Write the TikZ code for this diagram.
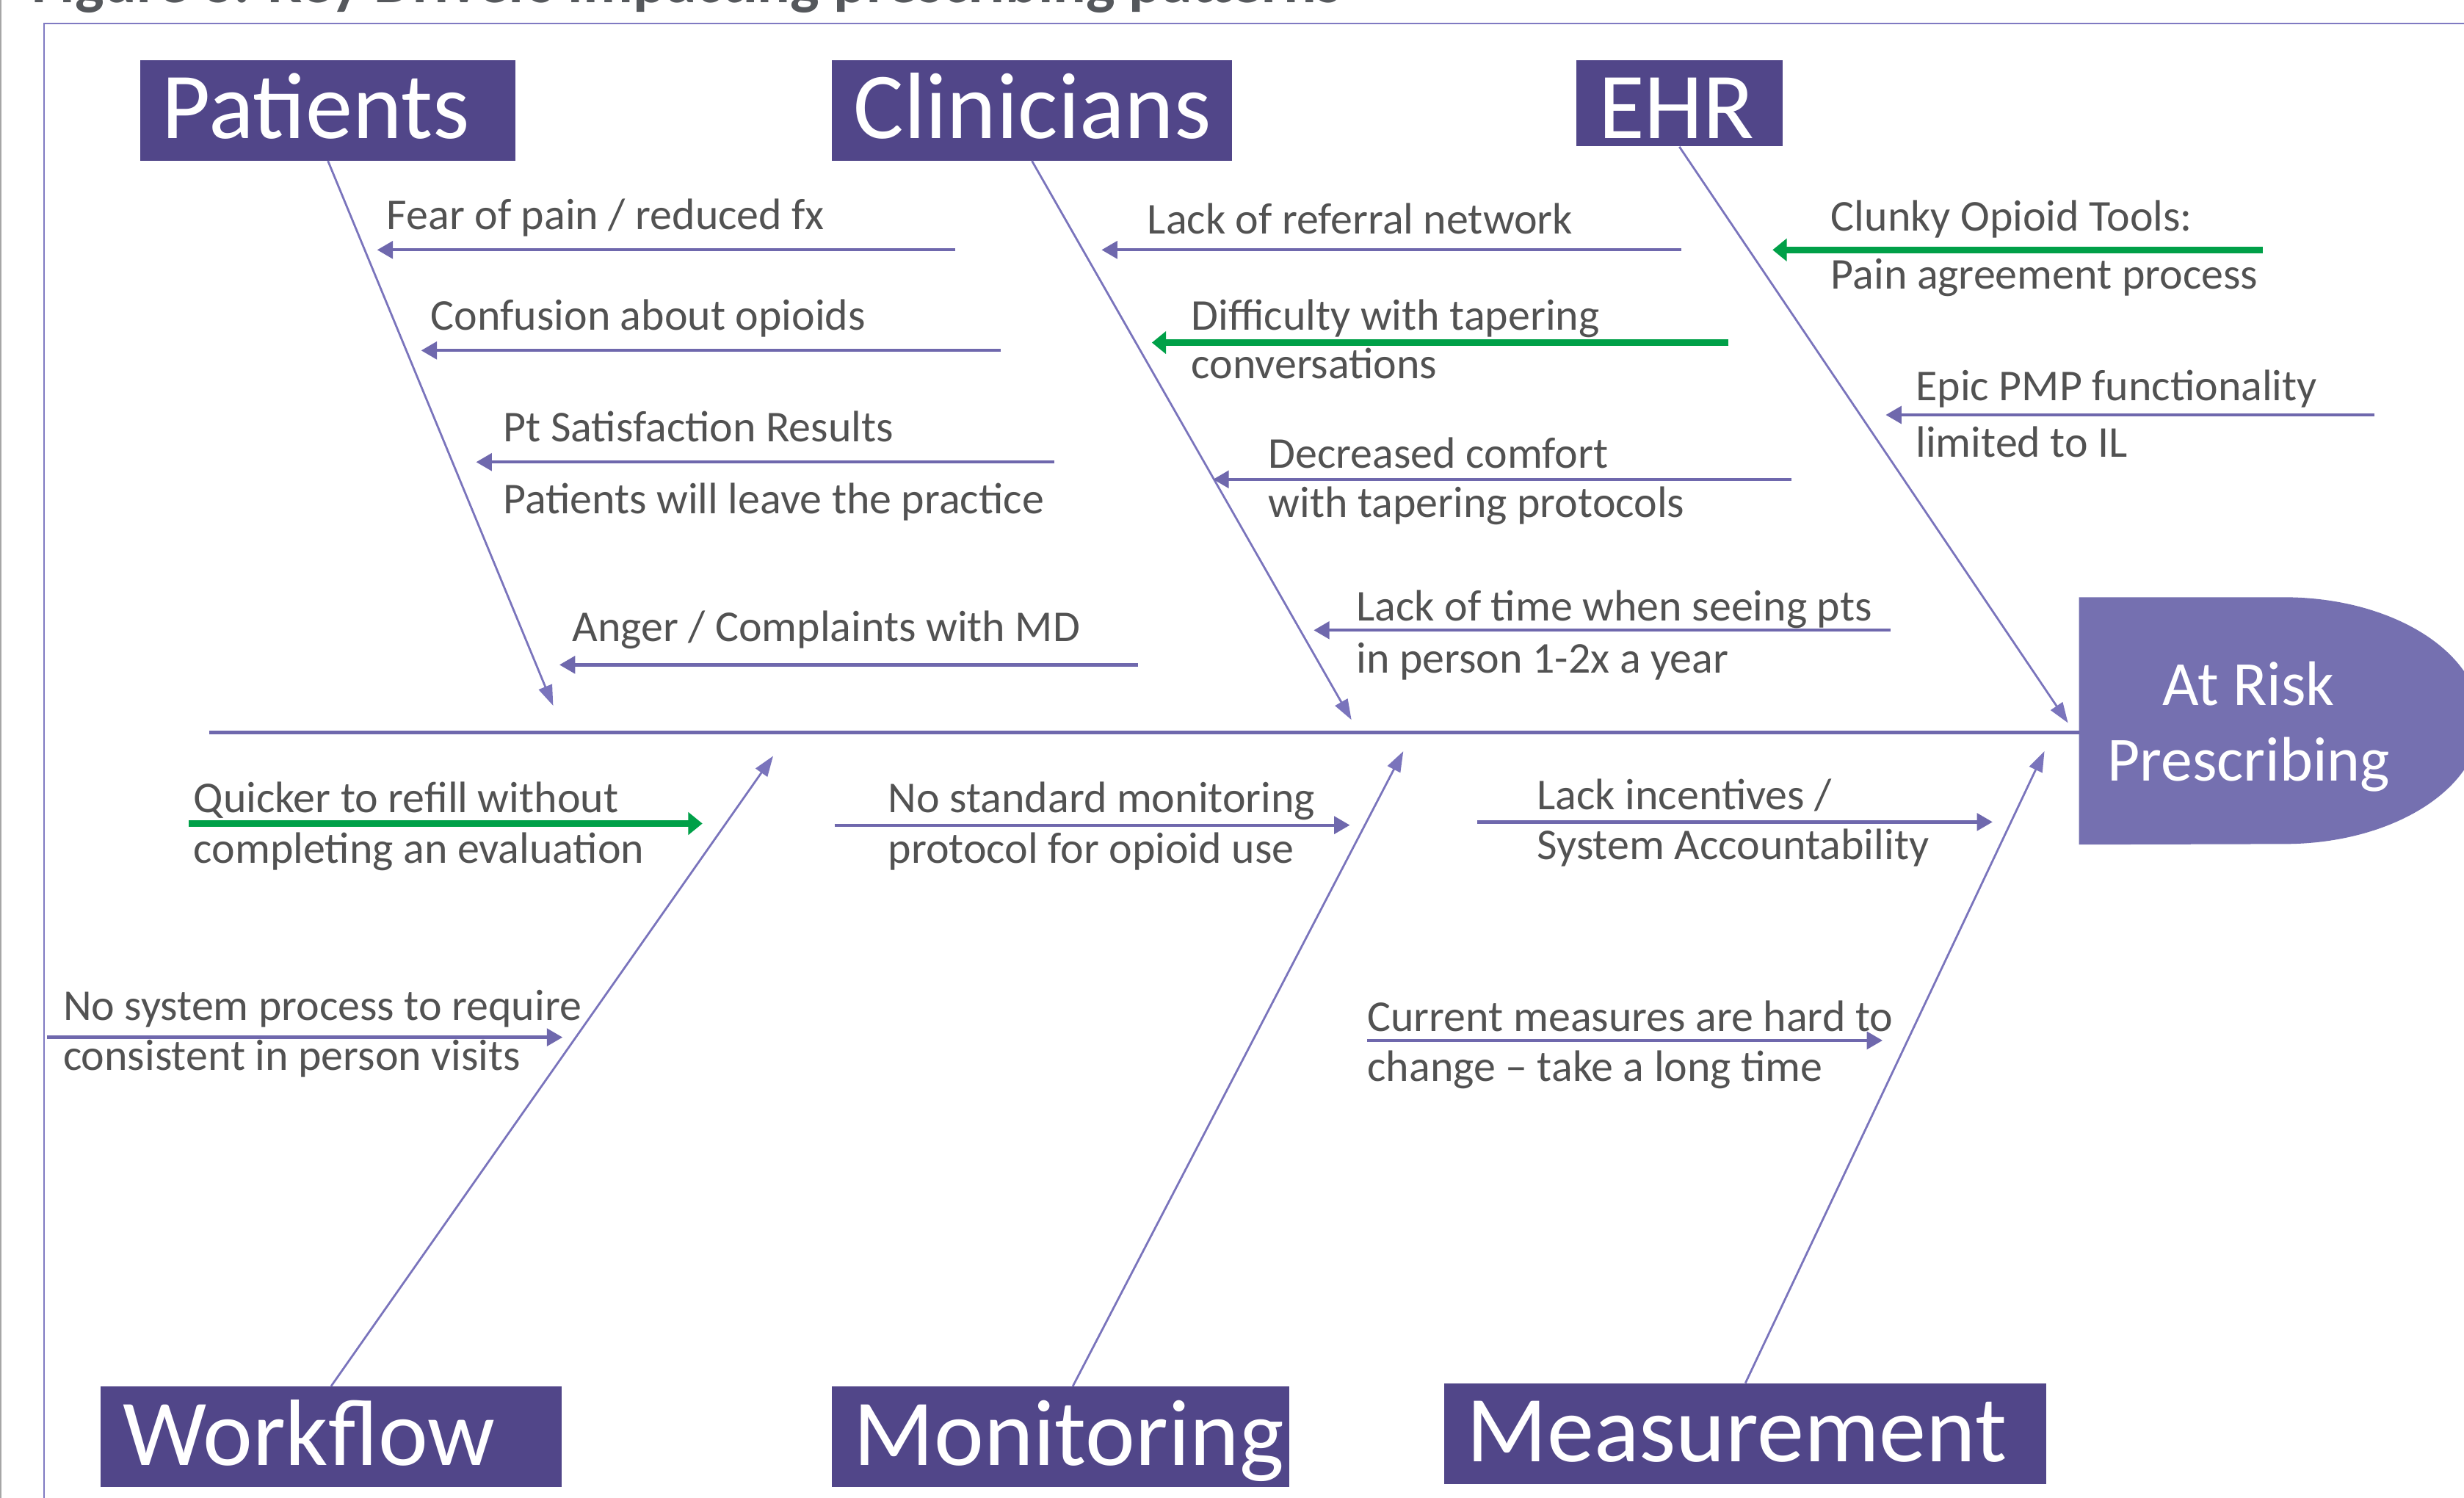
\documentclass[tikz,border=0pt]{standalone}
\usepackage{fontspec}
\setmainfont{Carlito}
\usetikzlibrary{arrows.meta}

\definecolor{boxpurple}{RGB}{81,70,137}
\definecolor{headpurple}{RGB}{117,112,176}
\definecolor{linepurple}{RGB}{111,104,173}
\definecolor{bonepurple}{RGB}{122,116,188}
\definecolor{framepurple}{RGB}{128,122,194}
\definecolor{txtgray}{RGB}{82,82,82}
\definecolor{titlegray}{RGB}{85,88,92}
\definecolor{keygreen}{RGB}{0,160,72}

\begin{document}
\begin{tikzpicture}[x=1pt,y=-1pt,
  catbox/.style={fill=boxpurple, text=white, anchor=north west,
    font=\fontsize{60}{62}\selectfont, inner xsep=14pt, inner ysep=0pt,
    text height=50pt, text depth=14pt, align=left},
  lbl/.style={anchor=base west, inner sep=0pt, text=txtgray,
    font=\fontsize{28}{30}\selectfont},
  headlbl/.style={anchor=base, inner sep=0pt, text=white,
    font=\fontsize{40}{44}\selectfont},
  bone/.style={draw=bonepurple, line width=1.3pt,
    -{Triangle[length=13pt,width=9pt]}},
  cause/.style={draw=linepurple, line width=2pt,
    -{Triangle[length=10pt,width=11pt]}},
  keycause/.style={draw=keygreen, line width=4pt,
    -{Triangle[length=9pt,width=14pt]}},
  spine/.style={draw=linepurple, line width=2pt},
]
\useasboundingbox (0,0) rectangle (1568,953);
\clip (0,0) rectangle (1568,953);

% page edge and figure frame
\draw[black!35, line width=1pt] (0.5,0) -- (0.5,953);
\draw[framepurple, line width=1.3pt] (28,953) -- (28,15) -- (1568,15);

% caption (runs off the top edge)
\node[anchor=base west, inner sep=0pt, text=titlegray,
  font=\bfseries\fontsize{39}{40}\selectfont] (caption) at (20,1.5)
  {Figure 3. Key Drivers impacting prescribing patterns};

% effect head: square back, rounded front, filled as one path
\node[inner sep=0pt, minimum width=130pt, minimum height=157pt,
  anchor=north west] (head) at (1323,380) {};
\fill[headpurple] (head.north west) -- (head.north east)
  arc[start angle=90, end angle=-90, x radius=125pt, y radius=78.5pt]
  -- (head.south west) -- cycle;
\node[headlbl] (risk1) at (1431,448.6) {At Risk};
\node[headlbl] (risk2) at (1431,496.7) {Prescribing};

% category boxes
\node[catbox, text width=211pt] (patients) at (89,38) {Patients};
\node[catbox, text width=227pt] (clinicians) at (529,38) {Clinicians};
\node[catbox, text width=103pt, text depth=5pt] (ehr) at (1003,38) {EHR};
\node[catbox, text width=265pt] (workflow) at (64,882) {Workflow};
\node[catbox, text width=263pt] (monitoring) at (529,882) {Monitoring};
\node[catbox, text width=355pt] (measurement) at (919,880) {Measurement};

% spine
\coordinate (tail) at (133,466);
\draw[spine] (tail) -- (tail -| head.west);

% bones
\coordinate (tipP) at (352,449);
\coordinate (tipC) at (860,458);
\coordinate (tipE) at (1316,460);
\coordinate (tipW) at (492,481);
\coordinate (tipM) at (893,478);
\coordinate (tipS) at (1301,478);
\draw[bone] (patients.south) -- (tipP);
\draw[bone] (clinicians.south) -- (tipC);
\draw[bone] (ehr.south) -- (tipE);
\draw[bone] (workflow.north) -- (tipW);
\draw[bone] ([xshift=8pt]monitoring.north) -- (tipM);
\draw[bone] (measurement.north) -- (tipS);

% patient causes
\coordinate (p1a) at (608,159); \coordinate (p1b) at (240,159);
\coordinate (p2a) at (637,223); \coordinate (p2b) at (268,223);
\coordinate (p3a) at (671,294); \coordinate (p3b) at (303,294);
\coordinate (p4a) at (724,423); \coordinate (p4b) at (356,423);
\draw[cause] (p1a) -- (p1b);
\draw[cause] (p2a) -- (p2b);
\draw[cause] (p3a) -- (p3b);
\draw[cause] (p4a) -- (p4b);
\node[lbl] (fear) at (246,146) {Fear of pain / reduced fx};
\node[lbl] (confusion) at (274,210) {Confusion about opioids};
\node[lbl] (satis1) at (320,281) {Pt Satisfaction Results};
\node[lbl] (satis2) at (320,327) {Patients will leave the practice};
\node[lbl] (anger) at (364,408) {Anger / Complaints with MD};

% clinician causes
\coordinate (c1a) at (1070,159); \coordinate (c1b) at (701,159);
\coordinate (c2a) at (1100,218); \coordinate (c2b) at (733,218);
\coordinate (c3a) at (1140,305); \coordinate (c3b) at (772,305);
\coordinate (c4a) at (1203,401); \coordinate (c4b) at (836,401);
\draw[cause] (c1a) -- (c1b);
\draw[keycause] (c2a) -- (c2b);
\draw[cause] (c3a) -- (c3b);
\draw[cause] (c4a) -- (c4b);
\node[lbl] (referral) at (730,149) {Lack of referral network};
\node[lbl] (taper1) at (758,210) {Difficulty with tapering};
\node[lbl] (taper2) at (758,241) {conversations};
\node[lbl] (comfort1) at (807,298) {Decreased comfort};
\node[lbl] (comfort2) at (807,329) {with tapering protocols};
\node[lbl] (time1) at (863,395) {Lack of time when seeing pts};
\node[lbl] (time2) at (863,428) {in person 1-2x a year};

% EHR causes
\coordinate (e1a) at (1440,159); \coordinate (e1b) at (1128,159);
\coordinate (e2a) at (1511,264); \coordinate (e2b) at (1200,264);
\draw[keycause] (e1a) -- (e1b);
\draw[cause] (e2a) -- (e2b);
\node[lbl] (tools1) at (1165,147) {Clunky Opioid Tools:};
\node[lbl] (tools2) at (1165,184) {Pain agreement process};
\node[lbl] (pmp1) at (1219,255) {Epic PMP functionality};
\node[lbl] (pmp2) at (1219,291) {limited to IL};

% workflow causes
\coordinate (w1a) at (120,524); \coordinate (w1b) at (447,524);
\coordinate (w2a) at (30,660); \coordinate (w2b) at (358,660);
\draw[keycause] (w1a) -- (w1b);
\draw[cause] (w2a) -- (w2b);
\node[lbl] (refill1) at (123,517) {Quicker to refill without};
\node[lbl] (refill2) at (123,549) {completing an evaluation};
\node[lbl] (visits1) at (40,649) {No system process to require};
\node[lbl] (visits2) at (40,681) {consistent in person visits};

% monitoring cause
\coordinate (m1a) at (531,525); \coordinate (m1b) at (859,525);
\draw[cause] (m1a) -- (m1b);
\node[lbl] (protocol1) at (565,517) {No standard monitoring};
\node[lbl] (protocol2) at (565,549) {protocol for opioid use};

% measurement causes
\coordinate (s1a) at (940,523); \coordinate (s1b) at (1268,523);
\coordinate (s2a) at (870,662); \coordinate (s2b) at (1198,662);
\draw[cause] (s1a) -- (s1b);
\draw[cause] (s2a) -- (s2b);
\node[lbl] (incent1) at (978,515) {Lack incentives /};
\node[lbl] (incent2) at (978,547) {System Accountability};
\node[lbl] (measures1) at (870,656) {Current measures are hard to};
\node[lbl] (measures2) at (870,688) {change -- take a long time};

\end{tikzpicture}
\end{document}
